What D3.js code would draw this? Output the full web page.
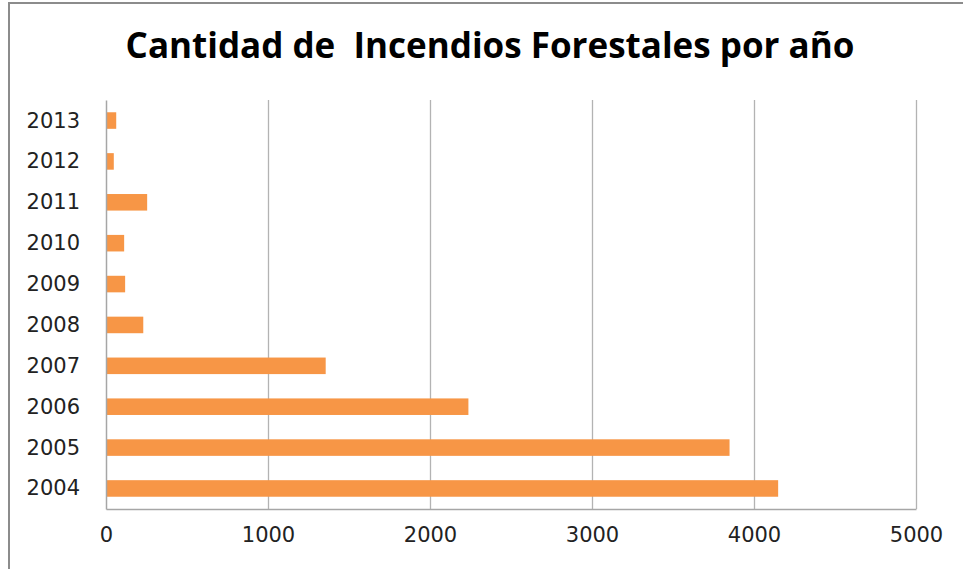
<!DOCTYPE html>
<html>
<head>
<meta charset="utf-8">
<script src="https://cdn.jsdelivr.net/npm/d3@7"></script>
<style>
  body { margin: 0; background: #fff; }
  .tick text { font-family: "DejaVu Sans", sans-serif; font-size: 21px; fill: #222; }
  .title { font-family: "Open Sans", sans-serif; font-weight: bold; font-size: 35px; fill: #000; }
</style>
</head>
<body>
<div id="chart"></div>
<script>
const years = ['2004', '2005', '2006', '2007', '2008', '2009', '2010', '2011', '2012', '2013'];
const fires = [4146, 3846, 2234, 1353, 227, 115, 109, 251, 45, 60];
const xTicks = [0, 1000, 2000, 3000, 4000, 5000];

const W = 963, H = 569;
const margin = { top: 100, right: 47, bottom: 60, left: 106 };
const width = W - margin.left - margin.right,
      height = H - margin.top - margin.bottom;
const barColor = '#f79646';

const svg = d3.select('#chart').append('svg')
  .attr('width', W)
  .attr('height', H);

// outer frame
svg.append('rect')
  .attr('x', 9).attr('y', 3)
  .attr('width', W + 10).attr('height', H + 10)
  .attr('fill', 'none')
  .attr('stroke', '#8c8c8c')
  .attr('stroke-width', 2);

svg.append('text')
  .attr('class', 'title')
  .attr('x', 490)
  .attr('y', 58)
  .attr('text-anchor', 'middle')
  .attr('xml:space', 'preserve')
  .style('white-space', 'pre')
  .text('Cantidad de  Incendios Forestales por año');

const x = d3.scaleLinear().domain([0, 5000]).range([0, width]);
const y = d3.scaleBand().domain(years.slice().reverse()).range([0, height]).paddingInner(0.595).paddingOuter(0.3);

const g = svg.append('g')
  .attr('transform', 'translate(' + margin.left + ',' + margin.top + ')');

// gridlines
g.append('g')
  .selectAll('line')
  .data(xTicks.slice(1))
  .enter().append('line')
  .attr('x1', d => x(d) + 0.5).attr('x2', d => x(d) + 0.5)
  .attr('y1', 0).attr('y2', height)
  .attr('stroke', '#b3b3b3')
  .attr('stroke-width', 1.3);

g.selectAll('rect.bar')
  .data(years)
  .enter().append('rect')
  .attr('class', 'bar')
  .attr('x', 0.5)
  .attr('y', d => y(d))
  .attr('width', (d, i) => x(fires[i]))
  .attr('height', y.bandwidth())
  .attr('fill', barColor);

const xAxis = d3.axisBottom(x).tickValues(xTicks).tickFormat(d3.format('d')).tickSize(0).tickPadding(26);
g.append('g')
  .attr('transform', 'translate(0,' + height + ')')
  .call(xAxis)
  .call(a => a.select('.domain').attr('stroke', '#a6a6a6').attr('stroke-width', 1.5));

const yAxis = d3.axisLeft(y).tickSize(0).tickPadding(26);
g.append('g')
  .call(yAxis)
  .call(a => a.select('.domain').attr('stroke', '#a6a6a6').attr('stroke-width', 1.5));

g.selectAll('.tick text').attr('dy', null).attr('dominant-baseline', 'central');
</script>
</body>
</html>
